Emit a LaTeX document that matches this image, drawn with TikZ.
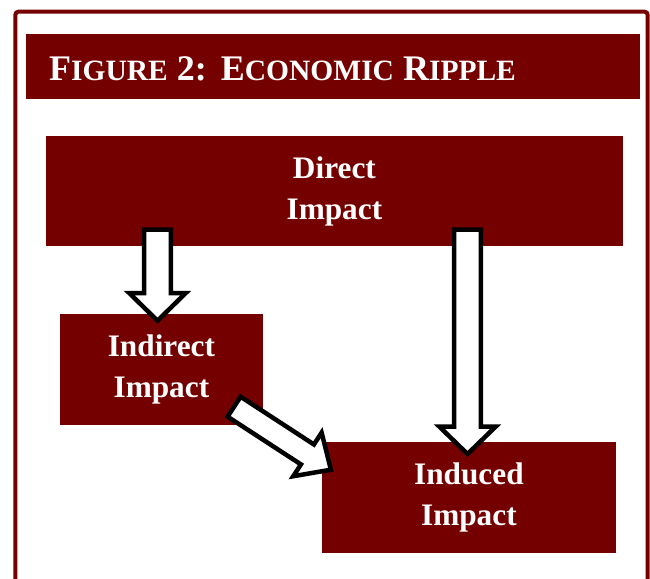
\documentclass[tikz,border=0pt]{standalone}
\usepackage{fontspec}
\setmainfont{Liberation Serif}
\usetikzlibrary{calc}
\definecolor{ripple}{RGB}{117,0,0}
\newcommand{\ttlcap}[1]{{\fontsize{36}{40}\selectfont #1}}
\newcommand{\ttlsc}[1]{{\fontsize{29.5}{32}\selectfont #1}}
% block arrow: start, end, shaft half-width, head half-width, head length
\newcommand{\blockarrow}[5]{%
  \draw[barrow] let \p1=(#1), \p2=(#2),
    \n1={atan2(\y2-\y1,\x2-\x1)}, \n2={veclen(\x2-\x1,\y2-\y1)} in
    [shift={(\p1)}, rotate=\n1]
    (0pt,-#3) -- (\n2-#5,-#3) -- (\n2-#5,-#4) -- (\n2,0pt)
    -- (\n2-#5,#4) -- (\n2-#5,#3) -- (0pt,#3) -- cycle;}
\begin{document}
\begin{tikzpicture}[x=1pt,y=-1pt,
  box/.style={fill=ripple, text=white, inner sep=0pt, align=center,
    font=\bfseries\fontsize{31.3}{41}\selectfont},
  barrow/.style={draw=black, fill=white, line width=4.5pt, line join=miter}]
\useasboundingbox (0,0) rectangle (650,578);
\clip (0,0) rectangle (650,578);
\draw[ripple, line width=4pt, rounded corners=3pt] (15.4,11.7) rectangle (647.6,610);
\node[fill=ripple, minimum width=614pt, minimum height=65.3pt, inner sep=0pt] (bar) at (333,66.65) {};
\node[anchor=base west, inner sep=0pt, text=white, font=\bfseries\fontsize{36}{40}\selectfont] (title) at (49,80.7)
  {\ttlcap{F}\ttlsc{IGURE} \ttlcap{2:}\hspace{14pt}\ttlcap{E}\ttlsc{CONOMIC} \ttlcap{R}\ttlsc{IPPLE}};
\node[box, minimum width=576.7pt, minimum height=110pt] (direct) at (334.4,191) {Direct\\Impact};
\node[box, minimum width=202.7pt, minimum height=111pt] (indirect) at (161.4,369.5) {Indirect\\Impact};
\node[box, minimum width=293.7pt, minimum height=110.4pt] (induced) at (468.9,497.5) {Induced\\Impact};
\coordinate (a1s) at (157.5,229.5);
\coordinate (a1e) at (157.5,320.7);
\coordinate (a2s) at (467.5,229.5);
\coordinate (a2e) at (467.5,454);
\coordinate (a3s) at (234.1,406.7);
\coordinate (a3e) at (331.2,469.9);
\blockarrow{a1s}{a1e}{13.3pt}{28.3pt}{27.7pt}
\blockarrow{a2s}{a2e}{13.3pt}{28.3pt}{27.5pt}
\blockarrow{a3s}{a3e}{11.9pt}{26pt}{28pt}
\end{tikzpicture}
\end{document}
